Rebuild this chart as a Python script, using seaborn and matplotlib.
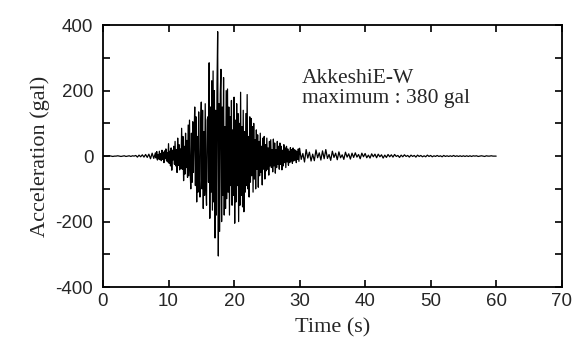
import numpy as np
import pandas as pd
import matplotlib
matplotlib.use("Agg")
import matplotlib.pyplot as plt
import seaborn as sns

# Acceleration record (gal).
# Segment 1: 0.00-7.75 s every 0.25 s
accel_pre = [
    0, 0, 0, 0, 1, 0, -1, 0, 0, 1, 0, -1, 0, 1, -1, 0, 1, -1, 1, 0,
    2, -3, 3, -2, 4, -3, 5, -4,
    6, -8, 9, -7,
]
# Segment 2: 8.0-29.9 s every 0.1 s (strong motion)
accel_main = [
    10, -6, 14, -12, 5, -9, 15, -11, 8, -14,
    18, -10, 12, -20, 16, -8, 22, -15, 10, -18,
    38, -22, 15, -30, 25, -43, 18, -12, 30, -25,
    45, -30, 20, -50, 55, -28, 35, -42, 22, -38,
    85, -40, 60, -75, 30, -55, 70, -35, 48, -65,
    95, -60, 110, -45, -100, 70, -80, 105, -50, 60,
    150, -90, 120, -140, 60, -110, 135, -70, -125, 90,
    165, -100, 140, -160, 75, -120, 160, -95, -150, 110,
    120, -80, 285, -190, 150, -110, 230, -165, 260, -140,
    200, -250, 140, -180, 220, 380, -305, 160, -230, 190,
    265, -200, 150, -120, 240, -180, 90, -160, 200, -130,
    205, -110, 150, -180, 120, -90, 170, -150, 80, -120,
    180, -205, 110, -140, 160, -90, 130, -200, 100, -150,
    195, -120, 90, -155, 140, -170, 75, -110, 130, -90,
    188, -100, 60, -125, 120, -80, 115, -60, 90, -110,
    100, -70, 50, -100, 80, -40, 65, -95, 45, -60,
    70, -50, 30, -88, 55, -40, 60, -70, 35, -45,
    55, -40, 25, -58, 45, -30, 50, -35, 20, -48,
    52, -30, 40, -52, 20, -35, 45, -25, 30, -40,
    40, -25, 30, -42, 18, -30, 35, -20, 25, -35,
    30, -18, 22, -28, 15, -20, 26, -15, 20, -22,
    25, -15, 20, -12, 18, -20, 14, -10, 22, -16,
]
# Segment 3: 30.0-60.0 s every 0.25 s (coda)
accel_post = [
    24, -10, 8, -18, 20, -6, 12, -15,
    6, -14, 19, -5, 10, -12, 16, -8,
    20, -7, 5, -13, 15, -4, 9, -11,
    13, -5, 4, -10, 12, -3, 7, -9,
    9, -4, 10, -3, 5, -8, 9, -2,
    8, -5, 3, -6, 7, -2, 6, -5,
    6, -2, 4, -6, 3, -4, 5, -2,
    4, -3, 5, -1, 2, -4, 3, -2,
    4, -1, 2, -3, 3, -1, 2, -3,
    3, -1, 2, -2, 1, -2, 3, -1,
    2, -2, 1, -1, 2, -1, 1, -2,
    2, -1, 1, -1, 1, -1, 2, -1,
    1, -1, 1, -1, 1, -1, 1, -1,
    1, -1, 1, 0, 1, -1, 0, 1,
    0, -1, 1, 0, 0, 1, 0, 0,
    0,
]

time = np.concatenate([
    np.arange(len(accel_pre)) * 0.25,
    8.0 + np.arange(len(accel_main)) * 0.1,
    30.0 + np.arange(len(accel_post)) * 0.25,
])
accel = accel_pre + accel_main + accel_post

x_ticks = [0, 10, 20, 30, 40, 50, 60, 70]
y_ticks = [-400, -200, 0, 200, 400]
y_minor = [-300, -100, 100, 300]
station = "AkkeshiE-W"
max_label = "maximum : 380 gal"

df = pd.DataFrame({"Time (s)": time, "Acceleration (gal)": accel})

sns.set_style("ticks")
plt.rcParams["font.family"] = ["Liberation Serif", "DejaVu Serif"]

fig = plt.figure(figsize=(5.77, 3.54), dpi=100)
ax = fig.add_axes([0.1785, 0.189, 0.795, 0.740])

sns.lineplot(data=df, x="Time (s)", y="Acceleration (gal)", ax=ax,
             color="black", linewidth=0.9, estimator=None, sort=False)

ax.set_xlim(0, 70)
ax.set_ylim(-400, 400)
ax.set_xticks(x_ticks)
ax.set_yticks(y_ticks)
ax.set_yticks(y_minor, minor=True)

tick_font = ["Liberation Sans Narrow", "Liberation Sans", "DejaVu Sans"]
ax.set_xticklabels([str(v) for v in x_ticks], family=tick_font, fontsize=13.5)
ax.set_yticklabels([str(v) for v in y_ticks], family=tick_font, fontsize=13.5)

ax.tick_params(which="both", direction="in", top=True, right=True,
               length=5, width=1.2, color="black")
ax.tick_params(axis="x", pad=4)
ax.tick_params(axis="y", pad=7)

for sp in ax.spines.values():
    sp.set_linewidth(1.3)
    sp.set_color("black")

ax.set_xlabel("Time (s)", fontsize=16, labelpad=6)
ax.set_ylabel("Acceleration (gal)", fontsize=16, labelpad=4)

ax.text(30.3, 223, station, fontsize=15.5, ha="left", va="baseline")
ax.text(30.3, 162, max_label, fontsize=15.5, ha="left", va="baseline")

fig.savefig("out.png", dpi=100)
